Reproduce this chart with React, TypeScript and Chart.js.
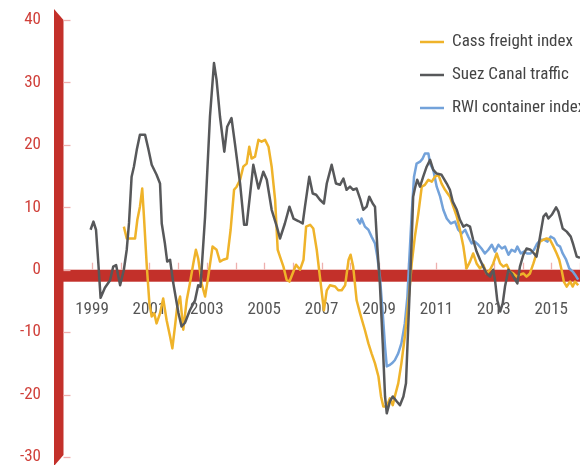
import React, { useEffect, useRef } from "react";
import { Chart, registerables } from "chart.js";

Chart.register(...registerables);

// ---- data (decimal year, % change) ----
const seriesLabels = ["Cass freight index", "Suez Canal traffic", "RWI container index"];
const seriesColors = ["#efb32a", "#57585a", "#73a2da"];

const cassYears = [2000.11,2000.21,2000.38,2000.5,2000.58,2000.67,2000.75,2000.81,2000.91,2001.0,2001.08,2001.17,2001.25,2001.37,2001.48,2001.6,2001.72,2001.8,2001.89,2001.97,2002.07,2002.18,2002.3,2002.41,2002.53,2002.62,2002.7,2002.82,2002.94,2003.05,2003.2,2003.34,2003.46,2003.57,2003.71,2003.83,2003.95,2004.04,2004.16,2004.27,2004.39,2004.48,2004.56,2004.68,2004.8,2004.91,2005.03,2005.15,2005.26,2005.38,2005.47,2005.55,2005.67,2005.78,2005.88,2005.99,2006.11,2006.25,2006.37,2006.46,2006.6,2006.71,2006.83,2006.94,2007.08,2007.18,2007.29,2007.47,2007.58,2007.7,2007.82,2007.94,2008.01,2008.1,2008.22,2008.34,2008.51,2008.63,2008.74,2008.86,2008.98,2009.07,2009.15,2009.27,2009.38,2009.48,2009.55,2009.67,2009.78,2009.9,2010.02,2010.14,2010.25,2010.37,2010.49,2010.6,2010.72,2010.84,2010.95,2011.07,2011.18,2011.3,2011.47,2011.59,2011.71,2011.82,2011.94,2012.05,2012.17,2012.28,2012.4,2012.52,2012.63,2012.75,2012.87,2012.98,2013.1,2013.22,2013.33,2013.45,2013.56,2013.68,2013.8,2013.91,2014.03,2014.14,2014.26,2014.38,2014.49,2014.61,2014.73,2014.84,2014.96,2015.08,2015.19,2015.28,2015.36,2015.44,2015.54,2015.66,2015.75,2015.83,2015.94];
const cassValues = [6.9,5.0,5.0,5.0,8.0,10.1,13.0,8.5,0.5,-5.4,-7.5,-7.0,-8.6,-7.0,-4.6,-8.1,-10.7,-12.6,-9.1,-5.9,-4.3,-9.6,-4.9,-2.2,1.0,3.2,1.8,-2.2,-4.3,-1.1,3.7,3.2,1.3,1.6,1.8,6.4,12.8,13.3,14.4,16.5,17.0,19.7,17.8,18.1,20.8,20.5,20.8,19.7,16.5,11.2,3.2,2.1,0.5,-1.6,-1.9,-0.6,0.8,0.0,1.6,6.9,7.2,6.6,3.2,-1.1,-6.5,-3.3,-2.5,-2.7,-3.3,-3.3,-2.5,1.6,2.4,0.5,-4.9,-7.0,-9.7,-11.8,-13.4,-15.0,-17.1,-20.3,-21.9,-21.9,-20.6,-21.7,-20.3,-18.2,-15.0,-10.7,-5.4,1.0,5.3,9.0,13.3,13.6,14.4,14.1,14.9,15.2,13.8,12.8,11.7,10.1,8.5,6.4,3.7,0.2,1.3,2.6,1.0,0.2,0.8,-0.6,0.0,1.0,2.6,1.0,0.5,0.8,-0.3,-0.6,-1.1,-0.8,-0.6,-1.1,-0.6,1.0,2.6,4.5,4.8,5.0,4.8,3.7,2.6,1.6,0.0,-1.9,-2.7,-1.9,-2.7,-1.9,-2.5];

const suezYears = [1998.95,1999.05,1999.14,1999.22,1999.3,1999.45,1999.63,1999.74,1999.84,1999.98,2000.11,2000.21,2000.29,2000.38,2000.46,2000.56,2000.67,2000.85,2000.96,2001.08,2001.25,2001.37,2001.43,2001.54,2001.62,2001.72,2001.83,2002.01,2002.12,2002.24,2002.41,2002.59,2002.7,2002.78,2002.94,2003.11,2003.25,2003.34,2003.46,2003.61,2003.71,2003.86,2003.98,2004.16,2004.3,2004.39,2004.51,2004.62,2004.8,2004.97,2005.09,2005.26,2005.44,2005.55,2005.72,2005.88,2006.02,2006.19,2006.34,2006.42,2006.57,2006.69,2006.81,2006.94,2007.08,2007.18,2007.35,2007.5,2007.64,2007.76,2007.87,2007.99,2008.1,2008.22,2008.34,2008.45,2008.57,2008.66,2008.78,2008.86,2008.94,2009.03,2009.13,2009.21,2009.27,2009.38,2009.48,2009.62,2009.73,2009.85,2009.94,2009.99,2010.06,2010.14,2010.19,2010.25,2010.33,2010.43,2010.54,2010.66,2010.78,2010.89,2011.01,2011.18,2011.36,2011.47,2011.57,2011.71,2011.82,2011.94,2012.05,2012.17,2012.28,2012.4,2012.52,2012.63,2012.75,2012.87,2012.98,2013.04,2013.12,2013.22,2013.31,2013.39,2013.51,2013.62,2013.74,2013.82,2013.91,2014.03,2014.14,2014.28,2014.4,2014.49,2014.61,2014.73,2014.82,2014.9,2015.02,2015.17,2015.25,2015.4,2015.54,2015.68,2015.77,2015.89,2016.0];
const suezValues = [6.4,7.7,6.4,1.1,-4.5,-2.9,-1.7,0.5,0.75,-2.5,0.0,3.2,7.5,14.9,16.5,19.2,21.6,21.6,19.4,16.8,15.2,13.8,7.4,4.2,1.3,1.6,-2.1,-6.9,-9.1,-8.5,-6.5,-4.9,-2.5,-2.7,8.5,24.5,33.1,30.4,24.5,18.9,22.9,24.3,20.2,13.8,7.2,7.2,12.2,16.8,13.0,15.7,14.4,9.6,6.9,5.0,7.4,10.1,8.2,7.8,7.4,10.1,14.9,12.2,12.0,11.2,10.6,13.8,16.8,13.8,13.6,14.6,12.8,13.3,12.8,13.0,11.4,9.6,10.1,11.7,10.6,10.1,3.7,-2.2,-11.8,-20.3,-23.0,-21.1,-20.3,-21.1,-21.7,-20.3,-18.2,-12.3,-4.3,4.8,11.7,13.0,14.4,13.3,14.9,16.5,17.6,16.0,15.4,15.2,13.8,12.8,10.9,9.6,8.0,6.9,7.2,6.9,4.8,2.9,1.6,0.5,-0.6,-1.1,0.0,-1.6,-4.9,-6.7,-5.4,-2.7,0.0,-0.6,-1.6,-2.2,0.5,2.4,3.4,3.2,2.6,2.1,5.3,8.5,9.0,8.2,8.8,10.0,9.3,6.6,6.1,5.3,4.0,2.1,1.9];

const rwiYears = [2008.24,2008.34,2008.39,2008.51,2008.63,2008.74,2008.86,2008.94,2009.03,2009.13,2009.21,2009.27,2009.36,2009.45,2009.55,2009.67,2009.78,2009.9,2009.99,2010.06,2010.14,2010.22,2010.31,2010.43,2010.52,2010.6,2010.72,2010.78,2010.89,2011.01,2011.13,2011.24,2011.36,2011.5,2011.65,2011.76,2011.88,2012.0,2012.11,2012.23,2012.34,2012.46,2012.57,2012.69,2012.81,2012.93,2013.04,2013.16,2013.28,2013.39,2013.51,2013.62,2013.74,2013.82,2013.94,2014.05,2014.16,2014.28,2014.4,2014.51,2014.63,2014.75,2014.87,2014.98,2015.1,2015.21,2015.31,2015.4,2015.52,2015.63,2015.75,2015.83,2015.94];
const rwiValues = [8.2,7.4,8.2,6.9,6.4,5.3,4.2,2.1,-1.1,-7.0,-12.3,-15.5,-15.3,-15.0,-14.5,-13.4,-11.8,-8.6,-4.3,2.1,9.0,14.9,17.0,17.3,17.8,18.6,18.6,17.0,16.0,13.3,11.7,9.6,8.2,7.4,7.7,6.4,5.8,6.4,5.3,4.2,4.5,4.0,3.4,2.6,3.2,4.0,2.9,4.0,3.4,3.7,2.4,3.2,2.9,3.7,2.6,2.9,2.6,2.6,3.2,4.2,4.8,4.8,4.5,5.3,5.0,4.0,3.7,2.6,1.6,0.2,-0.3,-0.8,-1.6];

const yTickValues = [40, 30, 20, 10, 0, -10, -20, -30];
const xLabelYears = [1999, 2001, 2003, 2005, 2007, 2009, 2011, 2013, 2015];
const xTickYears = [1998, 1999, 2000, 2001, 2002, 2003, 2004, 2005, 2006, 2007, 2008, 2009, 2010, 2011, 2012, 2013, 2014, 2015, 2016];

const RED = "#c3302a";
const PINK = "#eeb0ae";
const FONT = "'Liberation Sans Narrow', 'Arial Narrow', 'Roboto Condensed', Roboto, sans-serif";

const toPoints = (xs: number[], ys: number[]) => xs.map((x, i) => ({ x, y: ys[i] }));

const decorPlugin = {
  id: "decor",
  beforeDatasetsDraw(chart: any) {
    const { ctx, chartArea, scales } = chart;
    const x = scales.x;
    const y = scales.y;
    const L = chartArea.left;
    const R = L + 9.5;
    const yTop = y.getPixelForValue(40);
    const yBot = y.getPixelForValue(-30);
    const y0 = y.getPixelForValue(0);
    ctx.save();
    ctx.fillStyle = RED;
    ctx.beginPath();
    ctx.moveTo(L, yTop - 11);
    ctx.lineTo(R, yTop);
    ctx.lineTo(R, yBot - 2);
    ctx.lineTo(L, yBot + 9);
    ctx.closePath();
    ctx.fill();
    ctx.fillRect(L, y0, chartArea.right - L, 12);
    ctx.strokeStyle = PINK;
    ctx.lineWidth = 1.3;
    yTickValues.forEach((v) => {
      const py = Math.round(y.getPixelForValue(v)) + 0.5;
      ctx.beginPath();
      ctx.moveTo(R, py);
      ctx.lineTo(R + 7, py);
      ctx.stroke();
    });
    xTickYears.forEach((yr) => {
      const px = Math.round(x.getPixelForValue(yr)) + 0.5;
      if (px <= R) return;
      ctx.beginPath();
      ctx.moveTo(px, y0 - 7);
      ctx.lineTo(px, y0);
      ctx.stroke();
    });
    ctx.restore();
  },
  afterDatasetsDraw(chart: any) {
    const { ctx } = chart;
    ctx.save();
    const rows = [42, 75, 108];
    chart.data.datasets.forEach((ds: any, i: number) => {
      const ry = rows[i];
      ctx.strokeStyle = ds.borderColor;
      ctx.lineWidth = 2.5;
      ctx.beginPath();
      ctx.moveTo(420, ry);
      ctx.lineTo(444, ry);
      ctx.stroke();
      ctx.fillStyle = "#444444";
      ctx.font = `17px ${FONT}`;
      ctx.textBaseline = "middle";
      ctx.textAlign = "left";
      ctx.fillText(ds.label, 452, ry);
    });
    ctx.restore();
  },
};

export default function App() {
  const ref = useRef<HTMLCanvasElement | null>(null);
  useEffect(() => {
    if (!ref.current) return;
    const chart = new Chart(ref.current, {
      type: "line",
      data: {
        datasets: [
          { label: seriesLabels[0], data: toPoints(cassYears, cassValues), borderColor: seriesColors[0], order: 1 },
          { label: seriesLabels[1], data: toPoints(suezYears, suezValues), borderColor: seriesColors[1], order: 0 },
          { label: seriesLabels[2], data: toPoints(rwiYears, rwiValues), borderColor: seriesColors[2], order: 2 },
        ].map((d) => ({ ...d, borderWidth: 2.5, pointRadius: 0, tension: 0, fill: false, borderJoinStyle: "round" as const })),
      },
      options: {
        animation: false,
        responsive: true,
        maintainAspectRatio: false,
        layout: { padding: 0 },
        plugins: { legend: { display: false }, tooltip: { enabled: false } },
        scales: {
          x: {
            type: "linear",
            position: { y: 0 } as any,
            min: 1997.676,
            max: 2016.003,
            grid: { display: false, drawTicks: false },
            border: { display: false },
            afterBuildTicks: (s: any) => {
              s.ticks = xLabelYears.map((v) => ({ value: v }));
            },
            afterFit: (s: any) => {
              s.paddingLeft = 0;
              s.paddingRight = 0;
            },
            ticks: {
              color: "#555555",
              padding: 30,
              maxRotation: 0,
              autoSkip: false,
              font: { family: FONT, size: 17 },
              callback: (v: any) => String(v),
            },
          },
          y: {
            type: "linear",
            position: "left",
            min: -31.28,
            max: 43.2,
            grid: { display: false, drawTicks: false },
            border: { display: false },
            afterBuildTicks: (s: any) => {
              s.ticks = yTickValues.map((v) => ({ value: v }));
            },
            afterFit: (s: any) => {
              s.width = 54;
              s.paddingTop = 0;
              s.paddingBottom = 0;
            },
            ticks: {
              color: "#d0403a",
              padding: 13,
              font: { family: FONT, size: 17 },
              callback: (v: any) => String(v),
            },
          },
        },
      },
      plugins: [decorPlugin],
    });
    return () => chart.destroy();
  }, []);
  return (
    <div style={{ position: "absolute", left: 0, top: 0, width: 580, height: 465, background: "#fff" }}>
      <canvas ref={ref} />
    </div>
  );
}
